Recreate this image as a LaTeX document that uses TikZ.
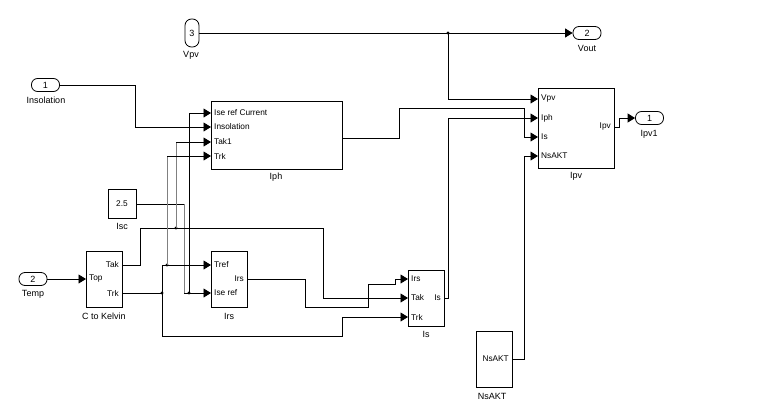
\documentclass[tikz,border=0pt]{standalone}
\usepackage{fontspec}
\setmainfont{Liberation Sans}
\usetikzlibrary{arrows.meta}
\begin{document}
\begin{tikzpicture}[x=1pt,y=-1pt,
 blk/.style={draw,line width=0.8pt,inner sep=0pt,anchor=north west},
 port/.style={draw,line width=0.8pt,rounded corners=6pt,inner sep=0pt,minimum width=28pt,minimum height=13pt,font=\fontsize{9}{10}\selectfont},
 vport/.style={draw,line width=0.8pt,rounded corners=6.5pt,inner sep=0pt,minimum width=14pt,minimum height=28pt,font=\fontsize{9}{10}\selectfont},
 lbl/.style={font=\fontsize{9}{10}\selectfont,inner sep=0pt},
 ptxt/.style={font=\fontsize{8.3}{9}\selectfont,inner sep=0pt},
 wire/.style={line width=0.9pt},
 gwire/.style={line width=0.9pt,draw=gray},
 sig/.style={wire,-{Triangle[length=7.5pt,width=9pt]}},
 jdot/.style={fill,circle,inner sep=0pt,minimum size=3.4pt}
]
\useasboundingbox (0,0) rectangle (761,407);

% ---- ports ----
\node[vport] (vpv) at (192,33) {3};
\node[lbl] (vpvl) at (191,55) {Vpv};
\node[port] (vout) at (587,33) {2};
\node[lbl] (voutl) at (587,48) {Vout};
\node[port] (ipv1) at (649.5,118) {1};
\node[lbl] (ipv1l) at (649,134) {Ipv1};
\node[port] (insol) at (45.5,85) {1};
\node[lbl] (insoll) at (46,100) {Insolation};
\node[port] (temp) at (33,279) {2};
\node[lbl] (templ) at (33,294) {Temp};

% ---- blocks ----
\node[blk,minimum width=131pt,minimum height=68pt] (iph) at (211,101) {};
\node[lbl] (iphl) at (276,177) {Iph};
\node[ptxt,anchor=west] (iph1) at (214,113) {Ise ref Current};
\node[ptxt,anchor=west] (iph2) at (214,127) {Insolation};
\node[ptxt,anchor=west] (iph3) at (214,142) {Tak1};
\node[ptxt,anchor=west] (iph4) at (214,156) {Trk};

\node[blk,minimum width=76pt,minimum height=80pt] (ipv) at (538,88) {};
\node[lbl] (ipvl) at (576,176) {Ipv};
\node[ptxt,anchor=west] (ipv1t) at (541,99) {Vpv};
\node[ptxt,anchor=west] (ipv2t) at (541,118) {Iph};
\node[ptxt,anchor=west] (ipv3t) at (541,137) {Is};
\node[ptxt,anchor=west] (ipv4t) at (541,156) {NsAKT};
\node[ptxt,anchor=east] (ipvot) at (611,127) {Ipv};

\node[blk,minimum width=28pt,minimum height=29pt] (isc) at (108,189) {};
\node[ptxt] (isct) at (122,203.5) {2.5};
\node[lbl] (iscl) at (122,226) {Isc};

\node[blk,minimum width=36pt,minimum height=56pt] (ck) at (86,251) {};
\node[lbl] (ckl) at (104,316) {C to Kelvin};
\node[ptxt,anchor=west] (ckt1) at (89,279) {Top};
\node[ptxt,anchor=east] (ckt2) at (119,265) {Tak};
\node[ptxt,anchor=east] (ckt3) at (119,293) {Trk};

\node[blk,minimum width=36pt,minimum height=56pt] (irs) at (211,251) {};
\node[lbl] (irsl) at (229,316) {Irs};
\node[ptxt,anchor=west] (irst1) at (214,265) {Tref};
\node[ptxt,anchor=west] (irst2) at (214,293) {Ise ref};
\node[ptxt,anchor=east] (irst3) at (244,279) {Irs};

\node[blk,minimum width=36pt,minimum height=56pt] (is) at (408,270) {};
\node[lbl] (isl) at (426,334) {Is};
\node[ptxt,anchor=west] (ist1) at (411,279) {Irs};
\node[ptxt,anchor=west] (ist2) at (411,298) {Tak};
\node[ptxt,anchor=west] (ist3) at (411,317) {Trk};
\node[ptxt,anchor=east] (ist4) at (441,298) {Is};

\node[blk,minimum width=36pt,minimum height=56pt] (ns) at (476,331) {};
\node[ptxt,anchor=east] (nst) at (509,359) {NsAKT};
\node[lbl] (nsl) at (492,396) {NsAKT};

% ---- port coordinates ----
\coordinate (iph-ise) at (211,113);
\coordinate (iph-ins) at (211,127);
\coordinate (iph-tak) at (211,142);
\coordinate (iph-trk) at (211,156);
\coordinate (iph-out) at (342,138);
\coordinate (ipv-vpv) at (538,99);
\coordinate (ipv-iph) at (538,118);
\coordinate (ipv-is) at (538,137);
\coordinate (ipv-ns) at (538,156);
\coordinate (ipv-out) at (614,127);
\coordinate (ck-top) at (86,279);
\coordinate (ck-tak) at (122,265);
\coordinate (ck-trk) at (122,293);
\coordinate (irs-tref) at (211,265);
\coordinate (irs-ise) at (211,293);
\coordinate (irs-out) at (247,279);
\coordinate (is-irs) at (408,279);
\coordinate (is-tak) at (408,298);
\coordinate (is-trk) at (408,317);
\coordinate (is-out) at (444,298);
\coordinate (ns-out) at (512,359);
\coordinate (isc-out) at (136,204);

% junctions
\node[jdot] (j1) at (448,33) {};
\node[jdot] (j2) at (189,293) {};
\node[jdot] (j3) at (176,228) {};
\node[jdot] (j4) at (162,293) {};
\node[jdot] (j5) at (167,265) {};

% ---- wires ----
\draw[sig] (vpv.east) -- (vout.west);
\draw[sig] (j1.center) -- (448,99) -- (ipv-vpv);
\draw[sig] (ipv-out) -- (619,127) -- (619,118) -- (ipv1.west);
\draw[sig] (insol.east) -- (135,85) -- (135,127) -- (iph-ins);
\draw[sig] (iph-out) -- (399,138) -- (399,108) -- (524,108) -- (524,137) -- (ipv-is);
\draw[sig] (is-out) -- (448,298) -- (448,118) -- (ipv-iph);
\draw[sig] (ns-out) -- (524,359) -- (524,156) -- (ipv-ns);

\draw[wire] (isc-out) -- (184,204);
\draw[gwire] (184,204) -- (184,293);
\draw[sig] (184,293) -- (irs-ise);
\draw[sig] (j2.center) -- (189,113) -- (iph-ise);

\draw[sig] (temp.east) -- (ck-top);

\draw[sig] (ck-tak) -- (140,265) -- (140,228) -- (323,228) -- (323,298) -- (is-tak);
\draw[gwire] (j3.center) -- (176,142);
\draw[sig] (176,142) -- (iph-tak);

\draw[wire] (ck-trk) -- (j4.center);
\draw[sig] (j4.center) -- (162,265) -- (irs-tref);
\draw[gwire] (j5.center) -- (167,156);
\draw[sig] (167,156) -- (iph-trk);
\draw[sig] (j4.center) -- (162,336) -- (342,336) -- (342,317) -- (is-trk);

\draw[sig] (irs-out) -- (305,279) -- (305,307) -- (368,307) -- (368,284) -- (395,284) -- (395,279) -- (is-irs);
\end{tikzpicture}
\end{document}
